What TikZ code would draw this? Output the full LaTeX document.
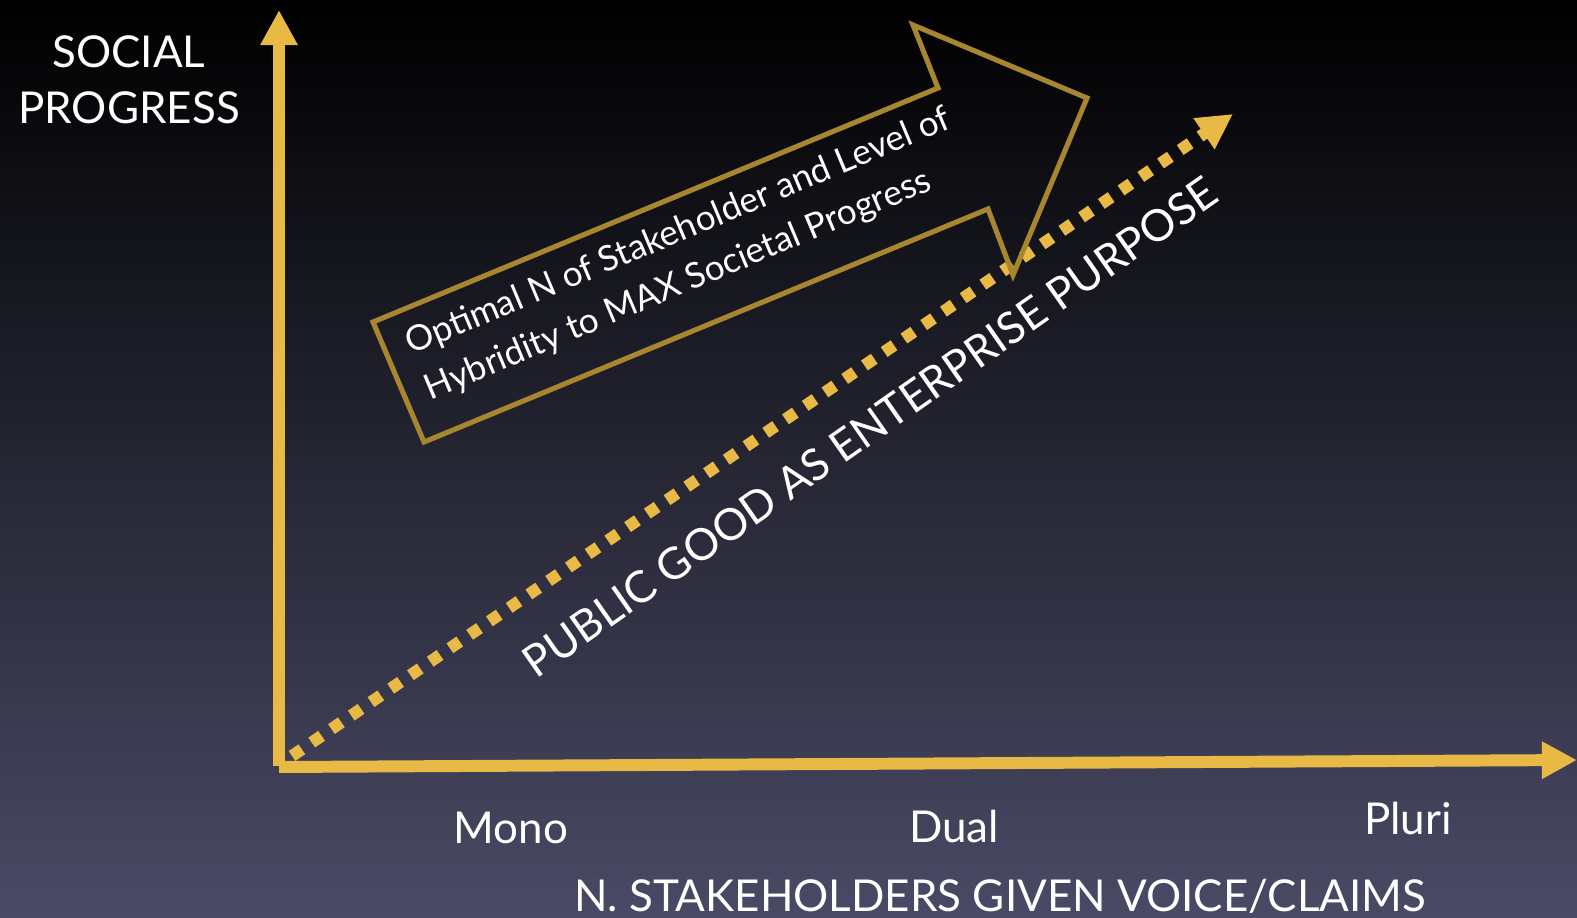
\documentclass[tikz,border=0pt]{standalone}
\usepackage{fontspec}
\setmainfont{Lato}
\usetikzlibrary{arrows.meta}

\definecolor{axisgold}{RGB}{232,185,68}
\definecolor{boxgold}{RGB}{168,134,48}
\definecolor{bgmid}{RGB}{30,28,52}
\definecolor{bgbot}{RGB}{74,74,102}

\tikzset{
  axisline/.style={axisgold, line width=6.8pt, -{Triangle[length=20pt,width=20pt]}},
  dotline/.style={axisgold, line width=6.8pt, dash pattern=on 6.8pt off 6.8pt,
    -{Triangle[length=20pt,width=20pt]}},
  biglabel/.style={white, font=\fontsize{25}{32}\selectfont},
  boxlabel/.style={white, font=\fontsize{20}{28}\selectfont}
}

\begin{document}
\begin{tikzpicture}[x=0.02cm, y=-0.02cm]
        %background
        \fill[top color=black, middle color=bgmid, bottom color=bgbot] (0,0) rectangle (1577,918);
        \useasboundingbox (0,0) rectangle (1577,918);

        %axes
        \coordinate (origin) at (279,767);
        \coordinate (ytip) at (279,10);
        \coordinate (xtip) at (1577,760);
        \draw[axisline] (279,766) -- (ytip);
        \draw[axisline] (279,767) -- (xtip);

        %dotted arrow
        \coordinate (dotstart) at (292,756);
        \coordinate (dottip) at (1233,114);
        \draw[dotline] (dotstart) -- (dottip);

        %big outlined arrow
        \draw[boxgold, line width=2.9pt, line join=miter]
            (424,442) -- (373,322) -- (938,88) -- (913,25) -- (1087,98)
            -- (1013,275) -- (988,209) -- cycle;

        \node[boxlabel, rotate=22.8, align=left] (optimal) at (688,255)
            {Optimal N of Stakeholder and Level of\\Hybridity to MAX Societal Progress};

        \node[biglabel, rotate=35] (purpose) at (870,427) {PUBLIC GOOD AS ENTERPRISE PURPOSE};

        \node[biglabel, align=center] (social) at (129,80) {SOCIAL\\PROGRESS};

        \node[biglabel] (mono) at (511,828) {Mono};
        \node[biglabel] (dual) at (954,826) {Dual};
        \node[biglabel] (pluri) at (1408,818) {Pluri};
        \node[biglabel] (xlabel) at (1000,896) {N. STAKEHOLDERS GIVEN VOICE/CLAIMS};
\end{tikzpicture}
\end{document}
